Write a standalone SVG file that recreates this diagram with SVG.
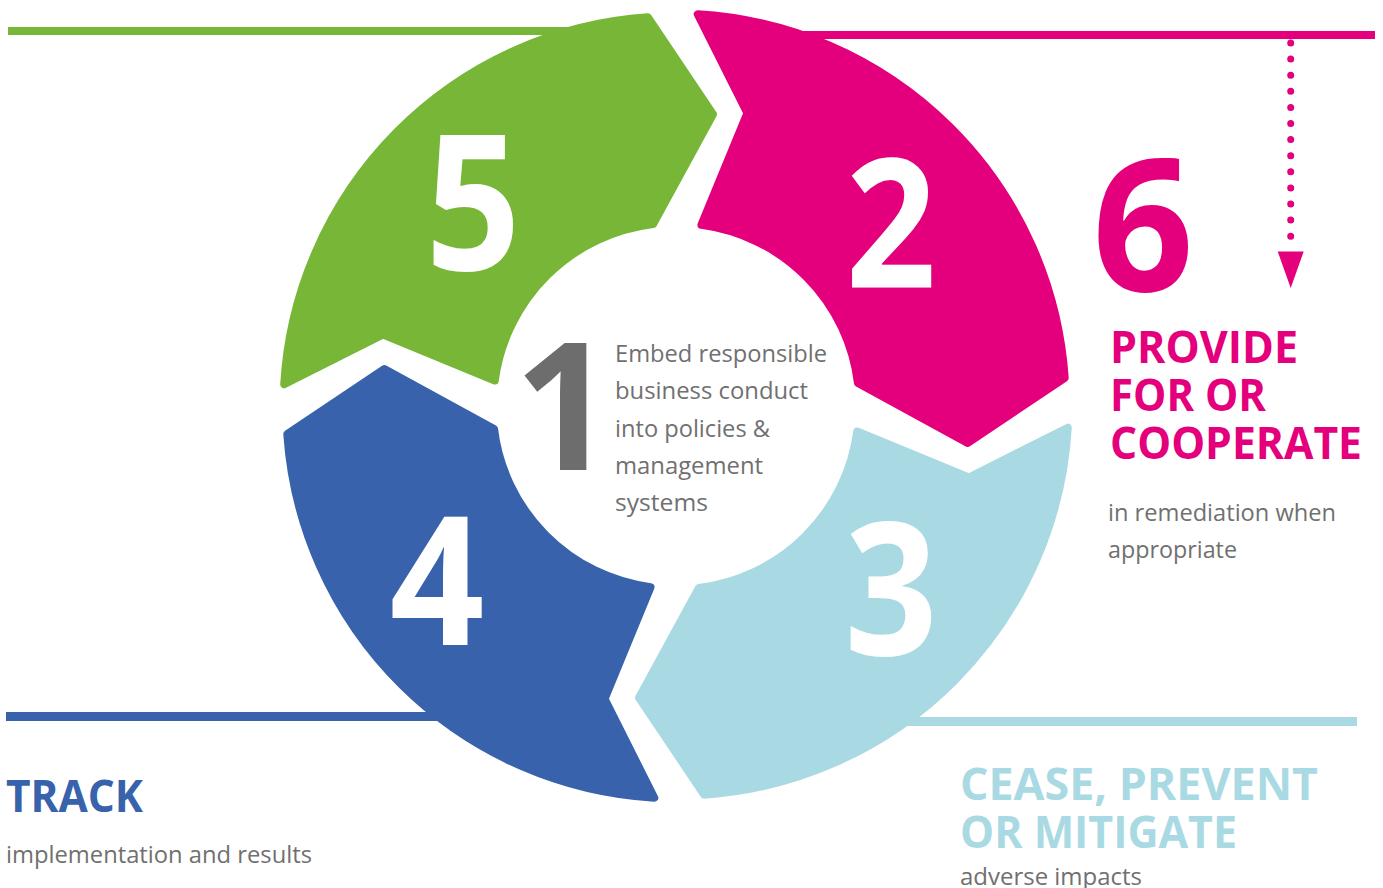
<svg xmlns="http://www.w3.org/2000/svg" width="1383" height="888" viewBox="0 0 1383 888">
<style>
.seg{stroke-width:8;stroke-linejoin:round}
.green{fill:#78b638;stroke:#78b638}
.pink{fill:#e4007c;stroke:#e4007c}
.lblue{fill:#a9dae3;stroke:#a9dae3}
.blue{fill:#3862ab;stroke:#3862ab}
.digit{font-family:"Open Sans","Noto Sans",sans-serif;font-weight:700;text-anchor:middle}
.head{font-family:"Open Sans","Noto Sans",sans-serif;font-weight:700;font-size:45px}
.body{font-family:"Open Sans","Noto Sans",sans-serif;font-weight:400;font-size:23px;fill:#707070}
</style>
<defs>
<path id="segshape" d="M -391 33 A 391 391 0 0 1 -82 -381 L -4 -294 L -48 -177 A 182 182 0 0 0 -183 0 L -300 -30 Z"/>
</defs>
<rect width="1383" height="888" fill="#ffffff"/>
<g id="connectors">
<line x1="8" y1="31" x2="600" y2="31" stroke="#78b638" stroke-width="8"/>
<line x1="760" y1="35" x2="1375" y2="35" stroke="#e4007c" stroke-width="8"/>
<line x1="6" y1="716.5" x2="500" y2="716.5" stroke="#3862ab" stroke-width="9"/>
<line x1="880" y1="721.5" x2="1357" y2="721.5" stroke="#a9dae3" stroke-width="9"/>
<line x1="1290.7" y1="43" x2="1290.7" y2="250" stroke="#e4007c" stroke-width="7" stroke-linecap="round" stroke-dasharray="0 16.1"/>
<polygon points="1277.7,251.5 1303.7,251.5 1290.7,288" fill="#e4007c"/>
</g>
<g id="node5"><use href="#segshape" class="seg green" transform="translate(676,406) rotate(8)"/>
<text class="digit" font-size="189" fill="#ffffff" transform="translate(473,270) scale(0.88,1)">5</text></g>
<g id="node2"><use href="#segshape" class="seg pink" transform="translate(676,406) rotate(98)"/>
<text class="digit" font-size="180" fill="#ffffff" transform="translate(891,288) scale(0.88,1)">2</text></g>
<g id="node3"><use href="#segshape" class="seg lblue" transform="translate(676,406) rotate(188)"/>
<text class="digit" font-size="185" fill="#ffffff" transform="translate(891,655) scale(0.88,1)">3</text></g>
<g id="node4"><use href="#segshape" class="seg blue" transform="translate(676,406) rotate(278)"/>
<text class="digit" font-size="180" fill="#ffffff" transform="translate(437,645) scale(0.92,1)">4</text></g>
<g id="node1">
<text class="digit" font-size="178" fill="#6d6d6d" transform="translate(564,470) scale(0.98,1)">1</text>
<text class="body" x="615" y="362" textLength="212" lengthAdjust="spacingAndGlyphs">Embed responsible</text>
<text class="body" x="615" y="399" textLength="193" lengthAdjust="spacingAndGlyphs">business conduct</text>
<text class="body" x="615" y="437" textLength="155" lengthAdjust="spacingAndGlyphs">into policies &amp;</text>
<text class="body" x="615" y="474" textLength="148" lengthAdjust="spacingAndGlyphs">management</text>
<text class="body" x="615" y="511" textLength="93" lengthAdjust="spacingAndGlyphs">systems</text>
</g>
<g id="node6">
<text class="digit" font-size="185" fill="#e4007c" transform="translate(1143,291) scale(0.96,1)">6</text>
<text class="head" fill="#e4007c" x="1110" y="363" textLength="188" lengthAdjust="spacingAndGlyphs">PROVIDE</text>
<text class="head" fill="#e4007c" x="1110" y="411" textLength="156" lengthAdjust="spacingAndGlyphs">FOR OR</text>
<text class="head" fill="#e4007c" x="1110" y="459" textLength="252" lengthAdjust="spacingAndGlyphs">COOPERATE</text>
<text class="body" x="1108" y="521" textLength="228" lengthAdjust="spacingAndGlyphs">in remediation when</text>
<text class="body" x="1108" y="558" textLength="129" lengthAdjust="spacingAndGlyphs">appropriate</text>
</g>
<g id="label4">
<text class="head" fill="#3862ab" x="6" y="812" textLength="137" lengthAdjust="spacingAndGlyphs">TRACK</text>
<text class="body" x="6" y="863" textLength="306" lengthAdjust="spacingAndGlyphs">implementation and results</text>
</g>
<g id="label3">
<text class="head" fill="#a9dae3" x="960" y="800" textLength="358" lengthAdjust="spacingAndGlyphs">CEASE, PREVENT</text>
<text class="head" fill="#a9dae3" x="960" y="848" textLength="277" lengthAdjust="spacingAndGlyphs">OR MITIGATE</text>
<text class="body" x="960" y="885" textLength="182" lengthAdjust="spacingAndGlyphs">adverse impacts</text>
</g>
</svg>
